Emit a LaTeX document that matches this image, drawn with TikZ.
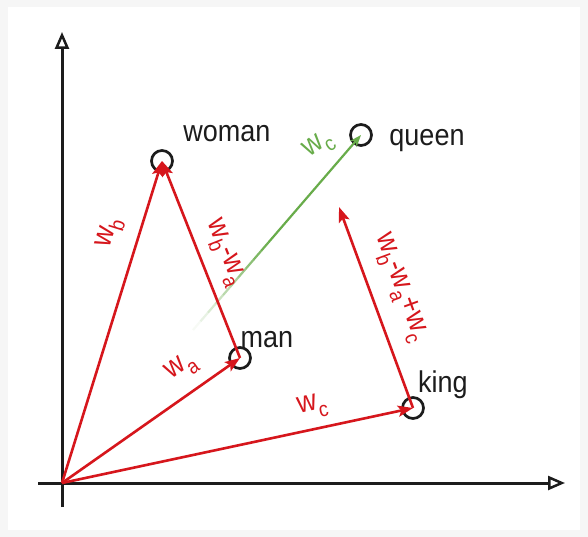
\documentclass[tikz,border=0pt]{standalone}
\usepackage{fontspec}
\setmainfont{Liberation Sans}[FakeStretch=0.9]
\usetikzlibrary{arrows.meta,calc}
\definecolor{vred}{RGB}{214,22,28}
\definecolor{vgreen}{RGB}{104,172,74}
\definecolor{ink}{RGB}{28,28,28}
\newcommand{\vw}[1]{w\raisebox{-8pt}{\fontsize{21}{21}\selectfont #1}}
\begin{document}
\begin{tikzpicture}[x=1pt,y=-1pt,
  axis/.style={ink, line width=3pt, -{Triangle[open,length=17pt,width=14pt,line width=2.5pt]}},
  vec/.style={vred, line width=2.6pt, -{Stealth[length=15pt,width=11pt,inset=3pt]}},
  gseg/.style={vgreen, line width=2.2pt},
  circ/.style={circle, draw=ink, line width=2.7pt, minimum size=21pt, inner sep=0pt},
  word/.style={ink, font=\fontsize{30}{30}\selectfont, inner sep=0pt, anchor=base},
  vlab/.style={vred, font=\fontsize{30}{30}\selectfont, inner sep=0pt},
  glab/.style={vgreen, font=\fontsize{30}{30}\selectfont, inner sep=0pt}]
\fill[gray!7] (0,0) rectangle (588,537);
\fill[white] (8,7) rectangle (580,530);
\useasboundingbox (0,0) rectangle (588,537);
% points
\coordinate (O) at (62,483);
\coordinate (yb) at (62,507);
\coordinate (yt) at (62,32);
\coordinate (xl) at (38,483);
\coordinate (xr) at (565,483);
\coordinate (woman) at (162,161);
\coordinate (man) at (240,358);
\coordinate (king) at (413,408);
\coordinate (queen) at (361,135);
\coordinate (gs) at (193,330);
\coordinate (up) at (339,207);
% axes
\draw[axis] (yb) -- (yt);
\draw[axis] (xl) -- (xr);
% circles
\node[circ] (cw) at (woman) {};
\node[circ] (cm) at (man) {};
\node[circ] (ck) at (king) {};
\node[circ] (cq) at (queen) {};
% words
\node[word] (tw) at (227,142) {woman};
\node[word] (tq) at (427,146) {queen};
\node[word] (tm) at (267,347) {man};
\node[word] (tk) at (443,392) {king};
% green faded vector
\foreach \i in {0,...,9}{
  \pgfmathsetmacro{\a}{(\i+0.5)/10}
  \pgfmathsetmacro{\s}{\i*0.045}
  \pgfmathsetmacro{\e}{(\i+1)*0.045}
  \draw[gseg, opacity=\a] ($(gs)!\s!(queen)$) -- ($(gs)!\e!(queen)$);
}
\draw[gseg, -{Stealth[length=12pt,width=9pt,inset=4pt]}] ($(gs)!0.45!(queen)$) -- (queen);
% red vectors
\draw[vec] (O) -- (woman);
\draw[vec] (O) -- (man);
\draw[vec] (O) -- (king);
\draw[vec] (man) -- (woman);
\draw[vec] (king) -- (up);
% labels
\node[vlab, rotate=72.7] (lb) at (110,233) {\vw{b}};
\node[vlab, rotate=-68.5] (lba) at (224,253) {\vw{b}-\vw{a}};
\node[vlab, rotate=35] (la) at (182,368) {\vw{a}};
\node[vlab, rotate=12.5] (lc) at (313,407) {\vw{c}};
\node[vlab, rotate=-70] (lbac) at (400,288) {\vw{b}-\vw{a}+\vw{c}};
\node[glab, rotate=35] (lg) at (319,146) {\vw{c}};
\end{tikzpicture}
\end{document}
